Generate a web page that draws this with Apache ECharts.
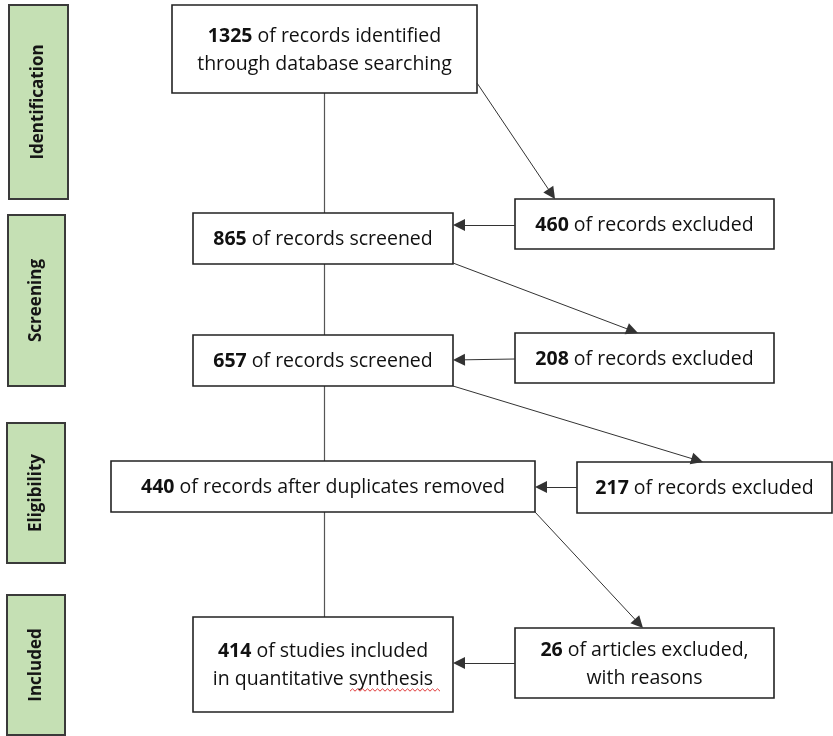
<!DOCTYPE html>
<html><head><meta charset="utf-8">
<script src="https://cdn.jsdelivr.net/npm/echarts@6/dist/echarts.min.js"></script>
<style>html,body{margin:0;padding:0;background:#fff}#c{width:833px;height:736px}</style>
</head><body><div id="c"></div>
<script>
// ---- data ----
const stages = ['Identification', 'Screening', 'Eligibility', 'Included'];
const mainCounts = [1325, 865, 657, 440, 414];
const mainTexts = [
  'of records identified\nthrough database searching',
  'of records screened',
  'of records screened',
  'of records after duplicates removed',
  'of studies included\nin quantitative synthesis'
];
const excludedCounts = [460, 208, 217, 26];
const excludedTexts = [
  'of records excluded',
  'of records excluded',
  'of records excluded',
  'of articles excluded,\nwith reasons'
];

// ---- layout (data units of hidden axes, 1 unit = 1 px) ----
const stageBoxes = [[9,5,68,199],[8,215,65,386],[7,423,65,563],[7,595,65,735]];
const mainBoxes = [[172,5,477,93],[193,213,453,264],[193,335,453,386],[111,461,535,512],[193,617,453,712]];
const exclBoxes = [[515,199,774,249],[515,333,774,383],[577,462,832,513],[515,628,774,698]];
const trunk = [[[324,93],[324,617]]];
const arrows = [
  [[477,83],[555,199]],
  [[515,225],[453,225]],
  [[453,263],[638,333]],
  [[515,359],[453,360]],
  [[453,386],[703,462]],
  [[577,487],[535,487]],
  [[535,512],[643,628]],
  [[515,663],[453,663]]
];
const squiggle = [[350, 690, 440]];

const FONT = '"Open Sans", "Liberation Sans", sans-serif';
const FS = 19.5;
const HEAD = [10, 12];

// pull the end point back so the centred arrow head's tip lands on the box edge
function tipAdjust(c) {
  const dx = c[1][0] - c[0][0], dy = c[1][1] - c[0][1];
  const len = Math.sqrt(dx * dx + dy * dy);
  const k = HEAD[1] / 2 / len;
  return [c[0], [c[1][0] - dx * k, c[1][1] - dy * k]];
}

function richLabel(count, text) {
  return '{b|' + count + '} ' + text;
}

function boxRenderer(texts, counts) {
  return function (params, api) {
    const p0 = api.coord([api.value(0), api.value(1)]);
    const p1 = api.coord([api.value(2), api.value(3)]);
    const i = params.dataIndex;
    return {
      type: 'group',
      children: [
        { type: 'rect', shape: { x: p0[0], y: p0[1], width: p1[0] - p0[0], height: p1[1] - p0[1] },
          style: { fill: '#ffffff', stroke: '#222222', lineWidth: 1.6 } },
        { type: 'text', x: (p0[0] + p1[0]) / 2, y: (p0[1] + p1[1]) / 2 + 1,
          style: {
            text: richLabel(counts[i], texts[i]),
            align: 'center', verticalAlign: 'middle',
            fontFamily: FONT, fontSize: FS, fill: '#111111', lineHeight: 28,
            rich: { b: { fontFamily: FONT, fontSize: FS, fontWeight: 'bold', fill: '#111111', lineHeight: 28 } }
          } }
      ]
    };
  };
}

const chart = echarts.init(document.getElementById('c'), null, { renderer: 'canvas' });
chart.setOption({
  animation: false,
  backgroundColor: '#ffffff',
  grid: { left: 0, right: 0, top: 0, bottom: 0 },
  xAxis: { type: 'value', min: 0, max: 833, show: false },
  yAxis: { type: 'value', min: 0, max: 736, inverse: true, show: false },
  series: [
    { type: 'lines', coordinateSystem: 'cartesian2d', z: 1,
      data: trunk.map(c => ({ coords: c })), symbol: 'none',
      lineStyle: { color: '#555555', width: 1.2, opacity: 1 } },
    { type: 'custom', z: 2, encode: { x: [0, 2], y: [1, 3] },
      data: stageBoxes,
      renderItem: function (params, api) {
        const p0 = api.coord([api.value(0), api.value(1)]);
        const p1 = api.coord([api.value(2), api.value(3)]);
        return { type: 'group', children: [
          { type: 'rect', shape: { x: p0[0], y: p0[1], width: p1[0] - p0[0], height: p1[1] - p0[1] },
            style: { fill: '#c5e0b4', stroke: '#3a3a3a', lineWidth: 2 } },
          { type: 'text', x: (p0[0] + p1[0]) / 2, y: (p0[1] + p1[1]) / 2, rotation: Math.PI / 2,
            style: { text: stages[params.dataIndex], align: 'center', verticalAlign: 'middle',
              fontFamily: FONT, fontSize: 17, fontWeight: 'bold', fill: '#151515' } }
        ] };
      } },
    { type: 'custom', z: 2, encode: { x: [0, 2], y: [1, 3] }, data: mainBoxes,
      renderItem: boxRenderer(mainTexts, mainCounts) },
    { type: 'custom', z: 2, encode: { x: [0, 2], y: [1, 3] }, data: exclBoxes,
      renderItem: boxRenderer(excludedTexts, excludedCounts) },
    { type: 'lines', coordinateSystem: 'cartesian2d', z: 3,
      data: arrows.map(c => ({ coords: tipAdjust(c) })), symbol: ['none', 'triangle'], symbolSize: HEAD,
      lineStyle: { color: '#333333', width: 1, opacity: 1 },
      itemStyle: { color: '#000000' } },
    { type: 'custom', z: 4, encode: { x: [0, 2], y: 1 }, data: squiggle,
      renderItem: function (params, api) {
        const a = api.coord([api.value(0), api.value(1)]);
        const b = api.coord([api.value(2), api.value(1)]);
        const pts = [];
        let k = 0;
        for (let x = a[0]; x <= b[0]; x += 2.5, k++) pts.push([x, a[1] + (k % 2 ? -1.2 : 1.2)]);
        return { type: 'polyline', shape: { points: pts }, style: { stroke: '#e03a3a', lineWidth: 1, fill: null } };
      } }
  ]
});
</script>
</body></html>
